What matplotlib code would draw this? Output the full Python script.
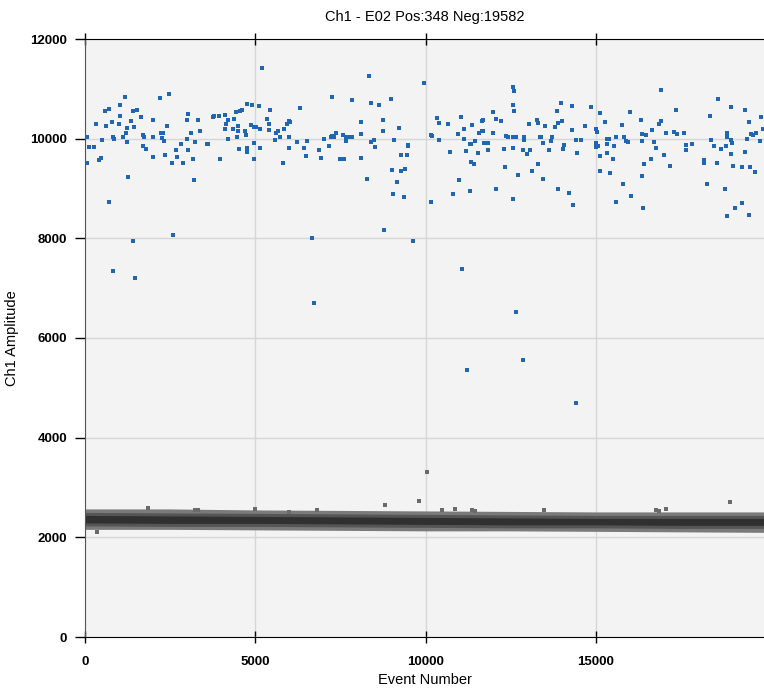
#!/usr/bin/env python3
# Droplet amplitude plot for channel 1, well E02: positives in blue, negatives as a grey band.

import matplotlib
matplotlib.use('Agg')
import matplotlib.pyplot as plt

TITLE = 'Ch1 - E02 Pos:348 Neg:19582'
TOTAL_EVENTS = 19930

# positive droplets (event number, amplitude)
pos_event = [
    50, 50, 130, 270, 315, 412, 479, 509, 588, 706, 618, 715, 785, 815, 853, 1029, 1029, 1009, 1126, 1185,
    1206, 1226, 1244, 1273, 1353, 1403, 1529, 1412, 1441, 1638, 1697, 1735, 1715, 1794, 2009, 2009, 2009, 2206, 2235, 2294,
    2265, 2323, 2353, 2403, 2462, 2550, 2579, 2676, 2715, 2815, 2891, 2991, 3029, 2991, 3009, 3117, 3156, 3206, 3235, 3314,
    3382, 3579, 3617, 3756, 3794, 3932, 3950, 4117, 4138, 4117, 4206, 4197, 4332, 4362, 4441, 4479, 4462, 4479, 4509, 4559,
    4609, 4706, 4735, 4756, 4756, 4756, 4873, 4903, 4950, 5029, 4970, 4970, 5109, 5147, 5147, 5206, 5344, 5403, 5441, 5391,
    5588, 5656, 5617, 5735, 5815, 5832, 5932, 5991, 6029, 5991, 5991, 6323, 6226, 6420, 6500, 6520,
    6667, 6862, 6941, 7009, 7156, 7206, 7255, 7303, 7255, 7373, 7479, 7597, 7579, 7656, 7697, 7764, 7823, 7656, 7823, 8088,
    8108, 8108, 8285, 8332, 8382, 8403, 8470, 8508, 8626, 8735, 8735, 8764, 8970, 9020, 9049, 9079, 9167, 9214, 9273, 9285,
    9391, 9361, 9449, 9470, 9470, 9626, 9950, 10155, 10197, 10155, 10323, 10382, 10391, 10667, 10705, 10802, 10950, 11117, 10979, 11029,
    11117, 11176, 11293, 11302, 11343, 11343, 11420, 11373, 11461, 11549, 11579,
    11646, 11685, 11646, 11685, 11697, 11744, 11794, 11832, 11832, 11990, 11990, 12058, 12058, 12196, 12285, 12314, 12361, 12402, 12567, 12597,
    12567, 12597, 12567, 12646, 12567, 12567, 12696, 12852, 12873, 12891, 12970, 13067, 13020, 13108, 13255, 13302, 13302, 13343, 13382, 13449,
    13449, 13508, 13608, 13676, 13696, 13794, 13873, 13852, 14008, 13891, 13961, 14020, 14049, 14214, 14293, 14293, 14332, 14411, 14549, 14440,
    14667, 14861, 15008, 15029, 15008, 15067, 15008, 15108, 15108, 15126, 15264, 15314, 15373, 15323, 15323, 15420,
    15520, 15491, 15579, 15579, 15755, 15802, 15832, 15881, 15932, 16008, 16029, 16314, 16343, 16343, 16361, 16479, 16373, 16402, 16617, 16655,
    16714, 16773, 16861, 16911, 16911, 16990, 17058, 17184, 17302, 17382, 17361, 17596, 17646, 17646, 17814, 18155, 18155, 18243, 18331, 18381,
    18470, 18558, 18587, 18667, 18784, 18802, 18831, 18831, 18843, 18949, 18978, 18961, 18949, 19008, 19067, 19273, 19294, 19373, 19382, 19441,
    19490, 19490, 19520, 19538, 19597, 19655, 19696, 19802, 19843, 19890,
    830, 1470, 6710, 11080, 12650, 11220, 12870, 14410,
]
pos_amp = [
    10040, 9510, 9840, 9840, 10300, 9570, 9610, 9970, 10560, 10600, 10260, 8720, 10340, 10030, 9990, 10670, 10460, 10300, 10030, 10840,
    10110, 9930, 10220, 9240, 10360, 10550, 10570, 7940, 10240, 10430, 10080, 10040, 9850, 9800, 10380, 10030, 9640, 10820, 10120, 10120,
    10010, 9950, 9670, 10260, 10900, 9510, 8070, 9770, 9640, 9890, 9520, 10380, 10490, 9990, 9770, 10120, 9590, 9180, 9940, 10380,
    10160, 9890, 9890, 10440, 10450, 10450, 9590, 10200, 10290, 10480, 10380, 9990, 10200, 10390, 10530, 10260, 10040, 10160, 9800, 10550,
    10570, 10160, 10080, 10700, 9810, 9730, 10270, 10680, 10230, 10230, 9910, 9590, 10660, 10200, 9810, 11410, 10400, 10300, 10570, 10180,
    9970, 10150, 10120, 10030, 9510, 10200, 10300, 10360, 10340, 10040, 9820, 10620, 9930, 9810, 9650, 9950,
    8010, 9770, 9620, 9990, 9850, 10040, 10060, 10030, 10840, 10120, 9590, 9600, 10070, 10030, 10030, 10030, 10030, 9950, 10780, 10340,
    10100, 9620, 9200, 11250, 10720, 9930, 9970, 9830, 10680, 10380, 10160, 8170, 10800, 9370, 8890, 9970, 9140, 10220, 9670, 9350,
    9390, 8820, 9670, 9880, 9850, 7940, 11110, 10080, 10060, 8730, 10420, 10320, 9970, 10300, 9730, 8890, 10100, 10200, 9170, 10430,
    9990, 9750, 8950, 9890, 9890, 9530, 9500, 10280, 9950, 9720, 10120,
    10360, 10380, 10150, 10150, 9910, 9910, 9910, 9910, 9770, 10530, 10120, 10390, 9000, 10350, 9790, 9430, 10060, 10030, 11030, 10950,
    10680, 10560, 10040, 10030, 9810, 8790, 9270, 9770, 10040, 9970, 9690, 9770, 10300, 9350, 10380, 10320, 9490, 10030, 10030, 9920,
    9200, 10260, 9770, 9950, 10040, 10240, 10310, 10550, 10350, 9000, 10720, 9790, 9870, 8900, 10180, 10660, 8660, 9970, 9970, 9710,
    10260, 10640, 10200, 10140, 9910, 9850, 9830, 9650, 9350, 10510, 10340, 10000, 10000, 9900, 9710, 9310,
    9850, 9600, 10030, 8730, 10280, 9100, 10030, 9950, 9930, 10530, 8850, 10380, 9950, 9250, 10100, 10070, 8600, 9500, 9600, 10180,
    9930, 9810, 10300, 10360, 10970, 9680, 10120, 9450, 10140, 10090, 10570, 10120, 9870, 9770, 9900, 9580, 9510, 9100, 10450, 9970,
    9850, 9520, 10800, 9790, 8990, 9850, 10120, 10030, 8440, 9970, 9910, 10640, 9690, 9460, 8610, 9430, 8700, 10580, 9730, 10000,
    10340, 8460, 9440, 10090, 10070, 9330, 10120, 9950, 10430, 10190,
    7340, 7210, 6710, 7390, 6520, 5350, 5550, 4700,
]

# negative droplets: band of amplitudes along the run (outer spread and dense core)
band_event = [0, 2500, 5000, 7500, 10000, 12500, 15000, 17500, 19930]
band_top = [2570, 2570, 2550, 2540, 2530, 2520, 2510, 2510, 2510]
band_mid_top = [2500, 2490, 2480, 2470, 2460, 2450, 2440, 2440, 2440]
core_top = [2440, 2430, 2420, 2410, 2400, 2390, 2380, 2380, 2380]
core_bottom = [2290, 2280, 2280, 2270, 2260, 2250, 2250, 2240, 2240]
band_mid_bottom = [2230, 2220, 2220, 2210, 2200, 2190, 2190, 2180, 2180]
band_bottom = [2160, 2160, 2150, 2140, 2130, 2130, 2120, 2110, 2100]

# stray negative droplets above / below the band
neg_out_event = [10030, 8820, 9790, 10490, 10850, 11370, 11460, 1860, 360, 3240, 3330, 5000, 5980, 6810, 13480, 18920, 16760, 16860, 17060]
neg_out_amp = [3320, 2650, 2720, 2550, 2570, 2540, 2530, 2580, 2100, 2550, 2550, 2560, 2510, 2550, 2550, 2700, 2550, 2520, 2570]


def main():
    plt.rcParams['font.family'] = ['Liberation Sans', 'DejaVu Sans']
    fig = plt.figure(figsize=(7.64, 6.88), dpi=100)
    ax = fig.add_axes([85 / 764, 51 / 688, 679 / 764, 598 / 688])
    ax.set_facecolor('#f3f3f3')

    ax.fill_between(band_event, band_bottom, band_top, color='#7a7a7a', lw=0, zorder=2)
    ax.fill_between(band_event, band_mid_bottom, band_mid_top, color='#555555', lw=0, zorder=2)
    ax.fill_between(band_event, core_bottom, core_top, color='#303030', lw=0, zorder=2)
    ax.plot(neg_out_event, neg_out_amp, 's', color='#6a6a6a', ms=2.3, mew=0, zorder=3)
    ax.plot(pos_event, pos_amp, 's', color='#1f66b5', ms=2.4, mew=0, zorder=4)

    ax.set_xlim(0, TOTAL_EVENTS)
    ax.set_ylim(0, 12000)
    ax.set_xticks([0, 5000, 10000, 15000])
    ax.set_yticks(range(0, 12001, 2000))
    ax.grid(True, color='#d6d6d6', lw=1)
    ax.set_axisbelow(True)

    for side in ('top', 'bottom'):
        ax.spines[side].set_color('black')
    ax.spines['left'].set_color('#555555')
    ax.spines['right'].set_visible(False)
    ax.tick_params(axis='x', direction='inout', length=8, width=1, top=True, pad=10)
    ax.tick_params(axis='y', direction='out', length=7, width=1, pad=6)
    for lbl in ax.get_xticklabels() + ax.get_yticklabels():
        lbl.set_fontweight('bold')
        lbl.set_fontsize(9.5)

    ax.set_title(TITLE, fontsize=10.5, pad=13)
    ax.set_xlabel('Event Number', fontsize=10.5, labelpad=3)
    ax.set_ylabel('Ch1 Amplitude', fontsize=10.5, labelpad=8)

    fig.savefig('out.png', dpi=100, facecolor='white')


if __name__ == '__main__':
    main()
